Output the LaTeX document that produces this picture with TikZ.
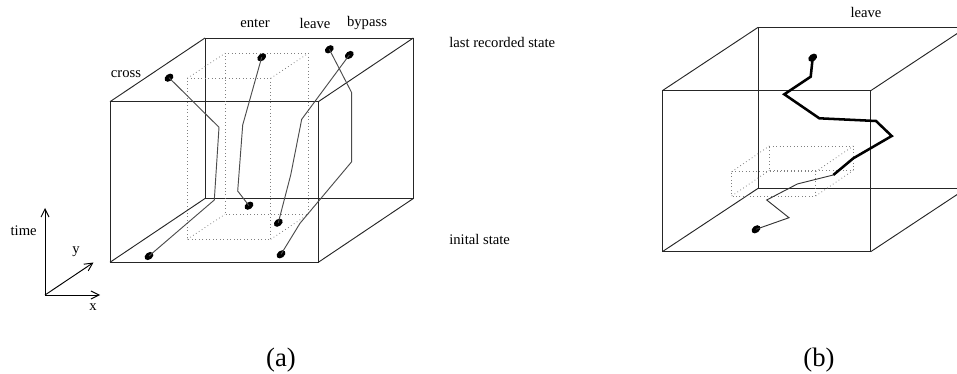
\documentclass[tikz,border=0pt]{standalone}
\usepackage{fontspec}
\setmainfont{Liberation Serif}
\usetikzlibrary{shapes.geometric,arrows.meta}
\tikzset{
  edge/.style={draw=black!85, line width=0.7pt},
  hidbox/.style={draw=black!50, line width=0.6pt, dotted},
  track/.style={draw=black!70, line width=0.7pt},
  thicktrack/.style={draw=black, line width=1.9pt, line join=miter},
  dot/.style={ellipse, fill=black, draw=none, minimum width=7.4pt, minimum height=5.2pt, inner sep=0pt, rotate=38},
  lbl/.style={font=\fontsize{11}{13}\selectfont, inner sep=0pt},
  subcap/.style={font=\fontsize{20}{24}\selectfont, inner sep=0pt},
  axis/.style={line width=0.7pt, -{Straight Barb[length=6pt,width=6pt]}}
}
\begin{document}
\begin{tikzpicture}[x=0.75pt,y=-0.75pt]
\useasboundingbox (0,0) rectangle (957,374);
\clip (0,0) rectangle (957,374);
% ---------- cube (a) ----------
\coordinate (aF1) at (110,101.7); \coordinate (aF2) at (318.3,101.7);
\coordinate (aF3) at (318.3,262.3); \coordinate (aF4) at (110,262.3);
\coordinate (aB1) at (205,38); \coordinate (aB2) at (413.3,38);
\coordinate (aB3) at (413.3,198.5); \coordinate (aB4) at (205,198.5);
\draw[edge] (aF1) -- (aF2) -- (aF3) -- (aF4) -- cycle;
\draw[edge] (aB1) -- (aB2) -- (aB3) -- (aB4) -- cycle;
\draw[edge] (aF1) -- (aB1) (aF2) -- (aB2) (aF3) -- (aB3) (aF4) -- (aB4);
% inner dotted box (a)
\coordinate (ai1) at (187.3,78.3); \coordinate (ai2) at (270.7,78.3);
\coordinate (ai3) at (270.7,239.3); \coordinate (ai4) at (187.3,239.3);
\coordinate (aj1) at (225,53.3); \coordinate (aj2) at (308.3,53.3);
\coordinate (aj3) at (308.3,214.3); \coordinate (aj4) at (225,214.3);
\draw[hidbox] (ai1) -- (ai2) -- (ai3) -- (ai4) -- cycle;
\draw[hidbox] (aj1) -- (aj2) -- (aj3) -- (aj4) -- cycle;
\draw[hidbox] (ai1) -- (aj1) (ai2) -- (aj2) (ai3) -- (aj3) (ai4) -- (aj4);
% tracks (a)
\node[dot] (crossT) at (169,77.7) {};
\node[dot] (crossB) at (149,256) {};
\node[dot] (enterT) at (261.7,57.3) {};
\node[dot] (enterB) at (249,205.7) {};
\node[dot] (leaveT) at (329.3,49.3) {};
\node[dot] (leaveB) at (281,254.3) {};
\node[dot] (bypT) at (349.3,55) {};
\node[dot] (bypB) at (278.3,222.7) {};
\draw[track] (crossT.center) -- (219,127.3) -- (214.3,200) -- (crossB.center);
\draw[track] (enterT.center) -- (242.7,125) -- (237.7,191) -- (enterB.center);
\draw[track] (leaveT.center) -- (351.7,92.7) -- (351.7,161.7) -- (300,223.3) -- (leaveB.center);
\draw[track] (bypT.center) -- (301.7,119.3) -- (290.7,175) -- (bypB.center);
% labels (a)
\node[lbl] (lcross) at (126,74) {cross};
\node[lbl] (lenter) at (255,23) {enter};
\node[lbl] (lleave) at (315,23) {leave};
\node[lbl] (lbyp) at (367,23) {bypass};
\node[lbl, anchor=west] (llast) at (449,42.5) {last recorded state};
\node[lbl, anchor=west] (linit) at (449,239) {inital state};
% axes
\coordinate (o) at (45,295);
\coordinate (tx) at (100,295);
\coordinate (ty) at (93.5,262.5);
\coordinate (tt) at (45,208);
\draw[axis] (o) -- (tx);
\draw[axis] (o) -- (ty);
\draw[axis] (o) -- (tt);
\node[lbl, anchor=east] (ltime) at (37,230.5) {time};
\node[lbl] (ly) at (76,251.5) {y};
\node[lbl] (lx) at (93,307.5) {x};
% ---------- cube (b) ----------
\coordinate (bF1) at (662.3,90.7); \coordinate (bF2) at (870.7,90.7);
\coordinate (bF3) at (870.7,251.7); \coordinate (bF4) at (662.3,251.7);
\coordinate (bB1) at (758.3,27.2); \coordinate (bB2) at (966.7,27.2);
\coordinate (bB3) at (966.7,188.2); \coordinate (bB4) at (758.3,188.2);
\draw[edge] (bF1) -- (bF2) -- (bF3) -- (bF4) -- cycle;
\draw[edge] (bB1) -- (bB2) -- (bB3) -- (bB4) -- cycle;
\draw[edge] (bF1) -- (bB1) (bF2) -- (bB2) (bF3) -- (bB3) (bF4) -- (bB4);
% inner dotted box (b)
\coordinate (bi1) at (731.7,171.7); \coordinate (bi2) at (815.7,171.7);
\coordinate (bi3) at (815.7,196); \coordinate (bi4) at (731.7,196);
\coordinate (bj1) at (769.3,146); \coordinate (bj2) at (853.3,146);
\coordinate (bj3) at (853.3,170.3); \coordinate (bj4) at (769.3,170.3);
\draw[hidbox] (bi1) -- (bi2) -- (bi3) -- (bi4) -- cycle;
\draw[hidbox] (bj1) -- (bj2) -- (bj3) -- (bj4) -- cycle;
\draw[hidbox] (bi1) -- (bj1) (bi2) -- (bj2) (bi3) -- (bj3) (bi4) -- (bj4);
% track (b)
\node[dot] (bT) at (812.7,57.7) {};
\node[dot] (bB) at (756,229.3) {};
\coordinate (bm) at (833.3,175);
\draw[thicktrack] (bT.center) -- (810.7,76.7) -- (784.3,94.3) -- (819.3,118.3) -- (876,121) -- (891.7,136) -- (853.3,158.3) -- (bm);
\draw[track, draw=black!80] (bm) -- (797.3,184) -- (766.7,200) -- (789,217.7) -- (bB.center);
\node[lbl] (lbleave) at (866,12.5) {leave};
% captions
\node[subcap] (capa) at (281,360) {(a)};
\node[subcap] (capb) at (819,360) {(b)};
\end{tikzpicture}
\end{document}
